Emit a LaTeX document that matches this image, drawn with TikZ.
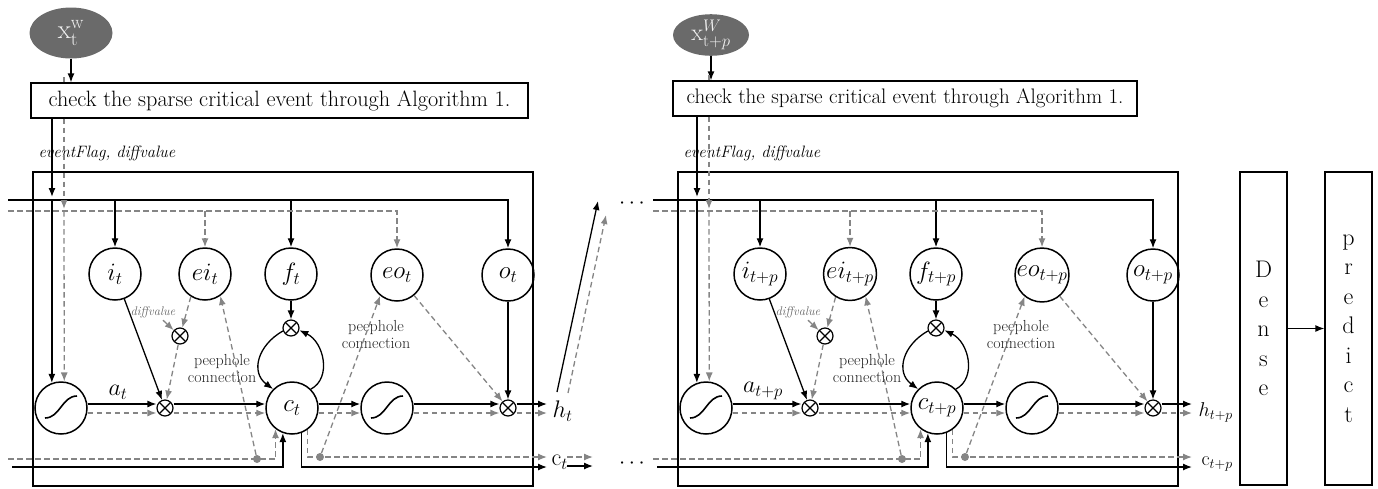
\RequirePackage{fix-cm}
\documentclass[tikz,border=0pt]{standalone}
\usepackage{fontspec}
\usetikzlibrary{arrows.meta,shapes.geometric,calc}
\definecolor{dg}{HTML}{858585}
\definecolor{ellfill}{HTML}{6A6A6A}
\tikzset{
  sa/.style={line width=1.3pt, -{Latex[length=9pt,width=7pt]}},
  sl/.style={line width=1.3pt},
  ga/.style={dg, line width=1.3pt, dash pattern=on 5.5pt off 3.5pt, -{Latex[length=9pt,width=7pt]}},
  gl/.style={dg, line width=1.3pt, dash pattern=on 5.5pt off 3.5pt},
  gate/.style={circle, draw, line width=1.5pt, minimum size=52pt, inner sep=0pt, font=\fontsize{25}{28}\selectfont},
  sigm/.style={circle, draw, line width=1.5pt, minimum size=52pt, inner sep=0pt,
    path picture={\draw[line width=1.6pt] ([shift={(-16pt,-10pt)}]path picture bounding box.center) .. controls +(15pt,0pt) and +(-15pt,0pt) .. ([shift={(16pt,12pt)}]path picture bounding box.center);}},
  mult/.style={circle, draw, line width=1.2pt, minimum size=16pt, inner sep=0pt,
    path picture={\draw[line width=1.2pt] (path picture bounding box.north west) -- (path picture bounding box.south east) (path picture bounding box.north east) -- (path picture bounding box.south west);}},
  gdot/.style={circle, fill=dg, minimum size=8pt, inner sep=0pt},
  peep/.style={font=\fontsize{16}{17}\selectfont, align=center, text=black!85},
  xell/.style={ellipse, fill=ellfill, inner sep=0pt, text=white!88!gray},
  topbox/.style={draw, line width=1.3pt, inner sep=0pt, minimum height=35pt},
  flaglab/.style={font=\itshape\fontsize{16.5}{18}\selectfont, anchor=west},
  outlab/.style={anchor=west, font=\fontsize{24}{26}\selectfont},
  outlabr/.style={anchor=west, font=\fontsize{20}{22}\selectfont},
  dots/.style={font=\fontsize{22}{24}\selectfont},
  vbox/.style={draw, line width=1.3pt, minimum width=47pt, minimum height=313pt, inner sep=0pt, align=center, font=\fontsize{24}{29.5}\selectfont},
}
\newcommand\lstmcell[4]{%
\begin{scope}[xshift=#2]
 \draw[line width=1.3pt] (33,172) rectangle (533,486);
 \node[gate] (#1i) at (115,274) {$i_{#3}$};
 \node[gate] (#1ei) at (205,274) {$ei_{#3}$};
 \node[gate] (#1f) at (291,274) {$f_{#3}$};
 \node[gate] (#1eo) at (397,275) {$eo_{#3}$};
 \node[gate] (#1o) at (508,275) {$o_{#3}$};
 \node[sigm] (#1s1) at (61,408) {};
 \node[mult] (#1m1) at (180,336) {};
 \node[mult] (#1mi) at (165,408) {};
 \node[mult] (#1mf) at (291,328) {};
 \node[gate] (#1c) at (292,408) {$c_{#3}$};
 \node[sigm] (#1s2) at (387,408) {};
 \node[mult] (#1mo) at (508,408) {};
 \node[font=\itshape\fontsize{12.5}{13}\selectfont, text=black!60] (#1dv) at (153,312) {diffvalue};
 \node[peep] (#1p1) at (222,369) {peephole\\connection};
 \node[peep] (#1p2) at (376,335) {peephole\\connection};
 \node[font=\fontsize{24}{26}\selectfont, anchor=south] (#1a) at (118,403) {$a_{#3}$};
 \node[gdot] (#1d1) at (257,459) {};
 \node[gdot] (#1d2) at (320,457) {};
 \coordinate (#1h0) at (8,200);
 \coordinate (#1g0) at (8,211);
 \coordinate (#1g1) at (8,459);
 \coordinate (#1h1) at (12,467);
 \coordinate (#1exa) at (52,197);
 \coordinate (#1gxa) at (64,209);
 \coordinate (#1gxb) at (64,211);
 \coordinate (#1ho) at (547,404);
 \coordinate (#1hg) at (547,413);
 \coordinate (#1co) at (547,467);
 \coordinate (#1cg) at (547,457);
 % top input lines
 \draw[sa] (#1h0) -| (#1o.north);
 \draw[sa] (#1i.north |- #1h0) -- (#1i.north);
 \draw[sa] (#1f.north |- #1h0) -- (#1f.north);
 \draw[ga] (#1g0) -| (#1eo.north);
 \draw[ga] (#1ei.north |- #1g0) -- (#1ei.north);
 % event flag lines
 \draw[gl] (#1gxa |- #4.north) -- ++(0,-6);
 \draw[sa] (#1exa |- #4.south) -- (#1exa);
 \draw[ga] (#1gxa |- #4.south) -- (#1gxa);
 \draw[sa] (#1s1.110 |- #1h0) -- (#1s1.110);
 \draw[ga] (#1gxb) -- (#1s1.83);
 % gates
 \draw[sa] (#1i) -- (#1mi);
 \draw[ga] (#1ei.238) -- (#1m1);
 \draw[ga] ($(#1dv.south)+(10,-1)$) -- (#1m1);
 \draw[ga] (#1m1) -- (#1mi);
 \draw[sa] ([yshift=4pt]#1s1.east) -- ([yshift=4pt]#1mi.west);
 \draw[ga] ([yshift=-5pt]#1s1.east) -- ([yshift=-5pt]#1mi.west);
 \draw[sa] ([yshift=4pt]#1mi.east) -- ([yshift=4pt]#1c.west);
 \draw[ga] ([yshift=-5pt]#1mi.east) -- ([yshift=-5pt]#1c.west);
 \draw[sa] ([yshift=4pt]#1c.east) -- ([yshift=4pt]#1s2.west);
 \draw[ga] ([yshift=-5pt]#1c.east) -- ([yshift=-5pt]#1s2.west);
 \draw[sa] ([yshift=4pt]#1s2.east) -- ([yshift=4pt]#1mo.west);
 \draw[ga] ([yshift=-5pt]#1s2.east) -- ([yshift=-5pt]#1mo.west);
 \draw[sa] (#1f) -- (#1mf);
 \draw[sa] (#1mf.200) .. controls (258,345) and (250,372) .. (#1c.135);
 \draw[sa] (#1c.45) .. controls (332,378) and (324,342) .. (#1mf.-15);
 \draw[sa] (#1o) -- (#1mo);
 \draw[ga] (#1eo) -- (#1mo);
 \draw[ga] (#1d1) -- (#1ei.-55);
 \draw[ga] (#1d2) -- (#1eo.231);
 \draw[ga] (#1g1) -| (#1c.232);
 \draw[sa] (#1h1) -| (#1c.250);
 \draw[sa] (#1c.290) |- (#1co);
 \draw[ga] (#1c.305) |- (#1cg);
 \draw[sa] ([yshift=4pt]#1mo.east) -- (#1ho);
 \draw[ga] ([yshift=-5pt]#1mo.east) -- (#1hg);
\end{scope}}
\begin{document}
\begin{tikzpicture}[x=1pt,y=-1pt]
\useasboundingbox (0,0) rectangle (1378,488);
% left top
\node[xell, minimum width=83pt, minimum height=51pt, font=\fontsize{27}{29}\selectfont] (xL) at (71,33) {$\mathrm{x}_{\mathrm{t}}^{\mathrm{w}}$};
\node[topbox, minimum width=497pt, font=\fontsize{22.2}{24}\selectfont] (bL) at (279.5,100.5) {check the sparse critical event through Algorithm 1.};
\draw[sa] (xL.south) -- (xL.south |- bL.north);
\node[flaglab] (efL) at (35,153) {eventFlag, diffvalue};
% right top
\node[xell, minimum width=76pt, minimum height=41pt, font=\fontsize{24}{26}\selectfont] (xR) at (711,35) {$\mathrm{x}_{\mathrm{t}+p}^{W}$};
\node[topbox, minimum width=464pt, font=\fontsize{21}{23}\selectfont] (bR) at (905,98.5) {check the sparse critical event through Algorithm 1.};
\draw[sa] (xR.south) -- (xR.south |- bR.north);
\node[flaglab] (efR) at (680,153) {eventFlag, diffvalue};
% cells
\lstmcell{L}{0pt}{t}{bL}
\lstmcell{R}{645pt}{t+p}{bR}
% left outputs
\node[outlab] (hL) at (549,411) {$h_t$};
\node[outlab] (cL) at (548,462) {$\mathrm{c}_t$};
\coordinate (cga) at (567,457); \coordinate (cgb) at (593,457);
\coordinate (csa) at (567,466); \coordinate (csb) at (593,466);
\draw[ga] (cga) -- (cgb);
\draw[sa] (csa) -- (csb);
\coordinate (dsa) at (557,392); \coordinate (dsb) at (598,201);
\coordinate (dga) at (568,393); \coordinate (dgb) at (606,215);
\draw[sa] (dsa) -- (dsb);
\draw[ga] (dga) -- (dgb);
\node[dots] (dt1) at (632,204) {$\cdots$};
\node[dots] (dt2) at (632,464) {$\cdots$};
% right outputs
\node[outlabr] (hR) at (1195,412) {$h_{t+p}$};
\node[outlabr] (cR) at (1198,464) {$\mathrm{c}_{t+p}$};
% dense / predict
\node[vbox] (dense) at (1263.5,328.5) {D\\e\\n\\s\\e};
\node[vbox] (pred) at (1348.5,328.5) {p\\r\\e\\d\\i\\c\\t};
\draw[sa] (dense) -- (pred);
\end{tikzpicture}
\end{document}
